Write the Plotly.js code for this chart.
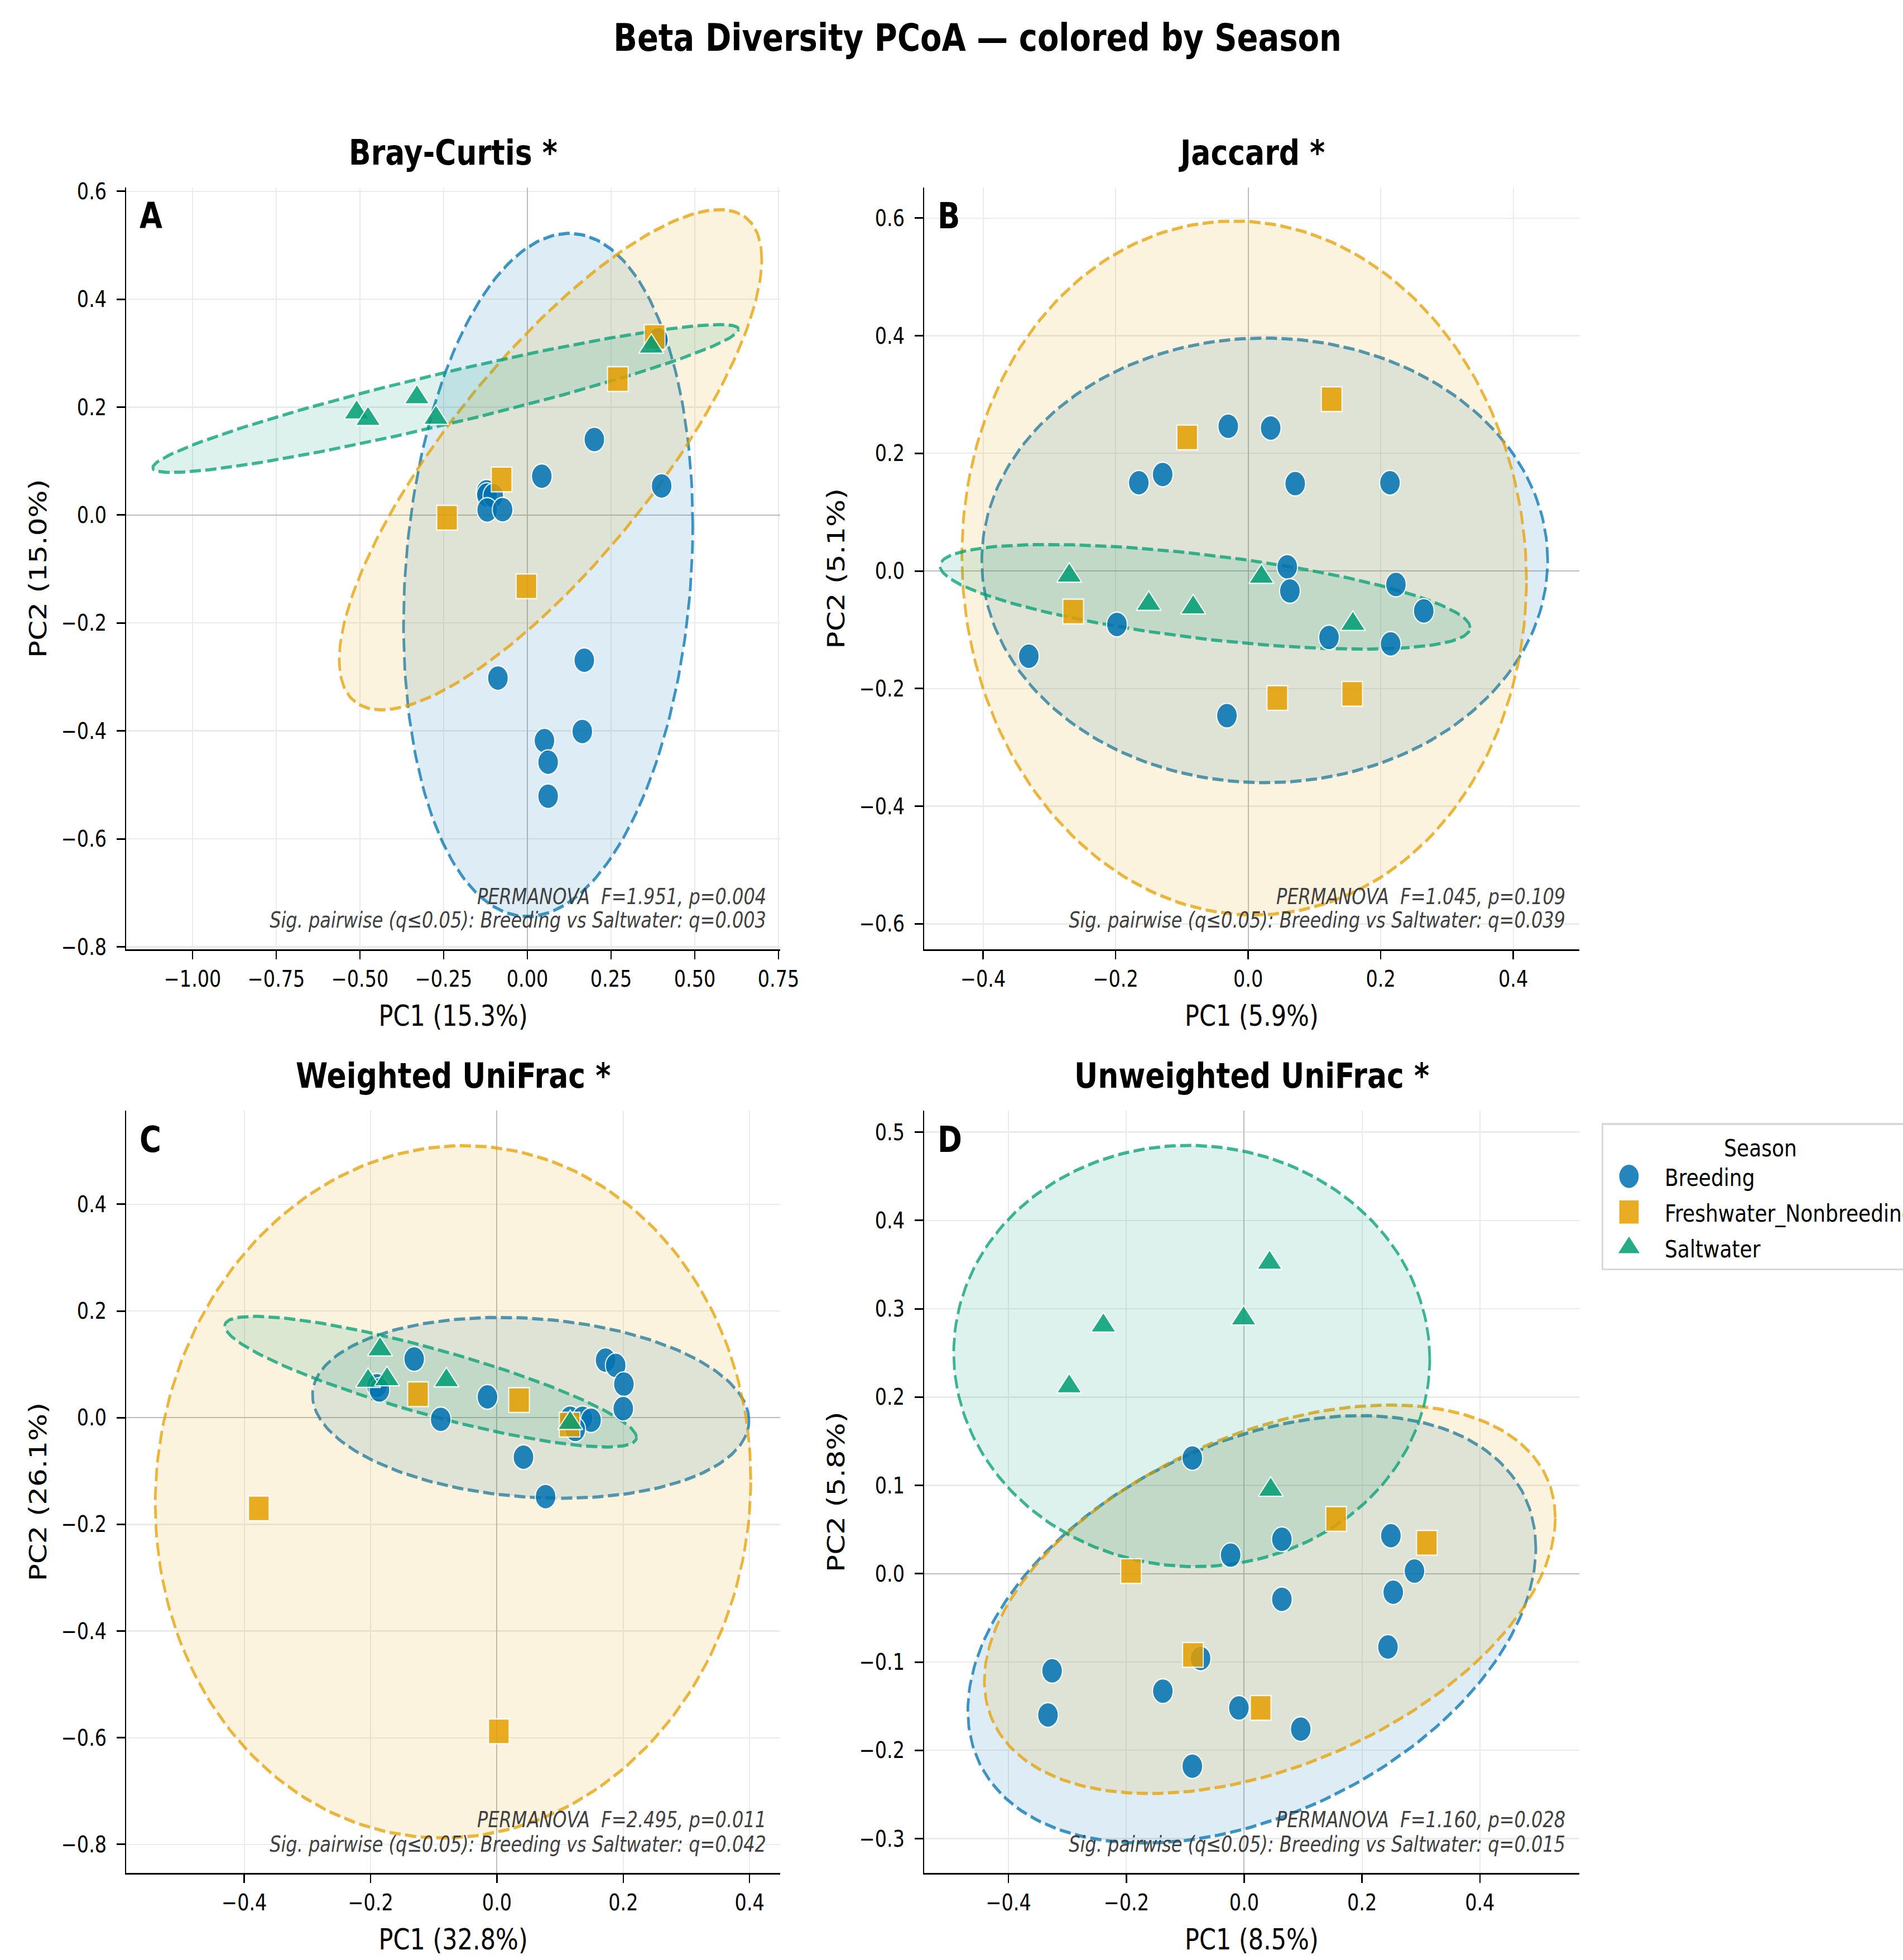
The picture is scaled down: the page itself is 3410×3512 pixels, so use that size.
<!DOCTYPE html>
<html>
<head>
<meta charset="utf-8">
<script src="https://cdn.plot.ly/plotly-3.0.1.min.js"></script>
<style>
html,body{margin:0;padding:0;background:#fff;width:3410px;height:3512px;overflow:hidden;}
#wrap{position:relative;width:3410px;height:3512px;overflow:hidden;background:#fff;}
#chart{position:absolute;left:0;top:0;width:3410px;height:2927px;transform:scale(1,1.19986);transform-origin:0 0;}
</style>
</head>
<body>
<div id="wrap"><div id="chart"></div></div>
<script>
// ---------------- DATA ----------------
const seasons = ['Breeding', 'Freshwater_Nonbreeding', 'Saltwater'];
const panelTitles = ['Bray-Curtis *', 'Jaccard *', 'Weighted UniFrac *', 'Unweighted UniFrac *'];
const panelLetters = ['A', 'B', 'C', 'D'];
const pc1Labels = ['PC1 (15.3%)', 'PC1 (5.9%)', 'PC1 (32.8%)', 'PC1 (8.5%)'];
const pc2Labels = ['PC2 (15.0%)', 'PC2 (5.1%)', 'PC2 (26.1%)', 'PC2 (5.8%)'];
const permanovaText = ['PERMANOVA  F=1.951, p=0.004', 'PERMANOVA  F=1.045, p=0.109',
                       'PERMANOVA  F=2.495, p=0.011', 'PERMANOVA  F=1.160, p=0.028'];
const pairwiseText = ['Sig. pairwise (q≤0.05): Breeding vs Saltwater: q=0.003',
                      'Sig. pairwise (q≤0.05): Breeding vs Saltwater: q=0.039',
                      'Sig. pairwise (q≤0.05): Breeding vs Saltwater: q=0.042',
                      'Sig. pairwise (q≤0.05): Breeding vs Saltwater: q=0.015'];

// Bray-Curtis
const bcBreedX = [0.200, 0.043, 0.401, -0.122, -0.121, -0.102, -0.120, -0.074, 0.170, -0.088, 0.164, 0.051, 0.062, 0.062, 0.390];
const bcBreedY = [0.140, 0.072, 0.054, 0.043, 0.037, 0.036, 0.0095, 0.010, -0.269, -0.302, -0.401, -0.418, -0.458, -0.521, 0.325];
const bcFreshX = [0.380, 0.270, -0.077, -0.240, -0.003];
const bcFreshY = [0.330, 0.252, 0.066, -0.005, -0.132];
const bcSaltX = [-0.510, -0.476, -0.330, -0.273, 0.370];
const bcSaltY = [0.190, 0.178, 0.218, 0.180, 0.312];
// ellipse: [centre x, centre y, half width, half height, correlation]
const bcEllipses = [[0.062, -0.111, 0.432, 0.633, 0.145],
                    [0.069, 0.1025, 0.631, 0.4635, 0.80],
                    [-0.244, 0.216, 0.875, 0.137, 0.935]];

// Jaccard
const jcBreedX = [-0.030, 0.034, -0.129, -0.165, 0.071, 0.214, 0.059, 0.063, 0.223, 0.265, -0.198, 0.122, 0.215, -0.331, -0.032];
const jcBreedY = [0.246, 0.243, 0.164, 0.150, 0.1485, 0.150, 0.007, -0.034, -0.023, -0.068, -0.091, -0.113, -0.124, -0.145, -0.246];
const jcFreshX = [0.126, -0.092, -0.264, 0.044, 0.157];
const jcFreshY = [0.292, 0.227, -0.069, -0.216, -0.209];
const jcSaltX = [-0.270, -0.150, -0.083, 0.020, 0.158];
const jcSaltY = [-0.008, -0.056, -0.062, -0.010, -0.090];
const jcEllipses = [[0.025, 0.018, 0.427, 0.378, 0.0],
                    [-0.006, 0.005, 0.426, 0.590, -0.035],
                    [-0.065, -0.044, 0.400, 0.089, -0.59]];

// Weighted UniFrac
const wuBreedX = [-0.131, -0.190, -0.186, -0.089, -0.015, 0.042, 0.077, 0.172, 0.188, 0.201, 0.200, 0.116, 0.1355, 0.149, 0.124];
const wuBreedY = [0.110, 0.060, 0.052, -0.003, 0.039, -0.074, -0.148, 0.108, 0.098, 0.063, 0.017, -0.001, -0.001, -0.0046, -0.022];
const wuFreshX = [-0.125, 0.035, 0.115, -0.377, 0.003];
const wuFreshY = [0.044, 0.033, -0.013, -0.170, -0.588];
const wuSaltX = [-0.185, -0.204, -0.174, -0.080, 0.116];
const wuSaltY = [0.128, 0.069, 0.072, 0.070, -0.010];
const wuEllipses = [[0.0535, 0.0185, 0.3455, 0.1695, -0.14],
                    [-0.0695, -0.139, 0.4715, 0.649, 0.035],
                    [-0.105, 0.0675, 0.326, 0.1225, -0.853]];

// Unweighted UniFrac
const uuBreedX = [-0.088, 0.064, -0.023, 0.249, 0.289, 0.253, 0.064, 0.244, -0.074, -0.326, -0.138, -0.333, -0.009, 0.096, -0.088];
const uuBreedY = [0.131, 0.039, 0.021, 0.043, 0.003, -0.021, -0.029, -0.083, -0.096, -0.110, -0.133, -0.160, -0.152, -0.176, -0.218];
const uuFreshX = [-0.192, -0.087, 0.028, 0.156, 0.310];
const uuFreshY = [0.003, -0.092, -0.152, 0.062, 0.035];
const uuSaltX = [-0.297, -0.239, -0.001, 0.043, 0.045];
const uuSaltY = [0.212, 0.281, 0.289, 0.352, 0.095];
const uuEllipses = [[0.013, -0.063, 0.482, 0.242, 0.38],
                    [0.0435, -0.029, 0.4845, 0.220, 0.42],
                    [-0.089, 0.2465, 0.404, 0.2385, -0.015]];

// tick values
const bcXTicks = [-1.0, -0.75, -0.5, -0.25, 0, 0.25, 0.5, 0.75];
const bcYTicks = [-0.8, -0.6, -0.4, -0.2, 0, 0.2, 0.4, 0.6];
const jcXTicks = [-0.4, -0.2, 0, 0.2, 0.4];
const jcYTicks = [-0.6, -0.4, -0.2, 0, 0.2, 0.4, 0.6];
const wuXTicks = [-0.4, -0.2, 0, 0.2, 0.4];
const wuYTicks = [-0.8, -0.6, -0.4, -0.2, 0, 0.2, 0.4];
const uuXTicks = [-0.4, -0.2, 0, 0.2, 0.4];
const uuYTicks = [-0.3, -0.2, -0.1, 0, 0.1, 0.2, 0.3, 0.4, 0.5];

// axis ranges
const bcXRange = [-1.198, 0.755], bcYRange = [-0.805, 0.607];
const jcXRange = [-0.4887, 0.4993], jcYRange = [-0.6436, 0.652];
const wuXRange = [-0.5868, 0.4484], wuYRange = [-0.854, 0.576];
const uuXRange = [-0.5429, 0.5683], uuYRange = [-0.3392, 0.5246];

// ---------------- STYLE ----------------
const FONT = 'DejaVu Sans';
const W = 3410, H = 2927;
const rgb = {Breeding: [0, 114, 178], Freshwater_Nonbreeding: [230, 159, 0], Saltwater: [0, 158, 115]};
const symbols = {Breeding: 'circle', Freshwater_Nonbreeding: 'square', Saltwater: 'triangle-up'};
const msize = {Breeding: 37, Freshwater_Nonbreeding: 37, Saltwater: 39};
const rgba = (c, a) => `rgba(${c[0]},${c[1]},${c[2]},${a})`;

const panels = [
  {bx: bcBreedX, by: bcBreedY, fx: bcFreshX, fy: bcFreshY, sx: bcSaltX, sy: bcSaltY, ell: bcEllipses,
   xt: bcXTicks, yt: bcYTicks, xr: bcXRange, yr: bcYRange, xf: '.2f', yf: '.1f'},
  {bx: jcBreedX, by: jcBreedY, fx: jcFreshX, fy: jcFreshY, sx: jcSaltX, sy: jcSaltY, ell: jcEllipses,
   xt: jcXTicks, yt: jcYTicks, xr: jcXRange, yr: jcYRange, xf: '.1f', yf: '.1f'},
  {bx: wuBreedX, by: wuBreedY, fx: wuFreshX, fy: wuFreshY, sx: wuSaltX, sy: wuSaltY, ell: wuEllipses,
   xt: wuXTicks, yt: wuYTicks, xr: wuXRange, yr: wuYRange, xf: '.1f', yf: '.1f'},
  {bx: uuBreedX, by: uuBreedY, fx: uuFreshX, fy: uuFreshY, sx: uuSaltX, sy: uuSaltY, ell: uuEllipses,
   xt: uuXTicks, yt: uuYTicks, xr: uuXRange, yr: uuYRange, xf: '.1f', yf: '.1f'}
];

const xDoms = [[226.3 / W, 1398 / W], [1656.25 / W, 2829.5 / W], [226.3 / W, 1398 / W], [1656.25 / W, 2829.5 / W]];
const yTop = [1 - 1417.9 / H, 1 - 280 / H], yBot = [1 - 2797.4 / H, 1 - 1658.3 / H];
const yDoms = [yTop, yTop, yBot, yBot];

function ellipsePath(e) {
  const [cx, cy, hx, hy, r] = e;
  const s = Math.sqrt(1 - r * r);
  const xs = [], ys = [];
  for (let i = 0; i <= 240; i++) {
    const t = 2 * Math.PI * i / 240;
    xs.push(cx + hx * Math.cos(t));
    ys.push(cy + hy * (r * Math.cos(t) + s * Math.sin(t)));
  }
  return {xs, ys};
}

const traces = [];
const layout = {
  width: W, height: H,
  margin: {l: 0, r: 0, t: 0, b: 0, autoexpand: false},
  paper_bgcolor: '#ffffff', plot_bgcolor: '#ffffff',
  font: {family: FONT, color: '#000000'},
  showlegend: true,
  legend: {
    x: 2870 / W, xanchor: 'left', y: 1 - 1677 / H, yanchor: 'top',
    bgcolor: 'rgba(255,255,255,0.8)', bordercolor: '#d9d9d9', borderwidth: 3,
    font: {family: FONT, size: 36, color: '#000000'},
    title: {text: 'Season', side: 'top center', font: {family: FONT, size: 36, color: '#000000'}},
    itemwidth: 100, tracegroupgap: 3.5, traceorder: 'grouped'
  },
  annotations: [{
    text: '<b>Beta Diversity PCoA — colored by Season</b>', xref: 'paper', yref: 'paper',
    x: 1751 / W, y: 1 - 91.5 / H, xanchor: 'center', yanchor: 'bottom', showarrow: false,
    font: {family: FONT, size: 56, color: '#000000'}
  }]
};

panels.forEach((p, i) => {
  const n = i === 0 ? '' : String(i + 1);
  const xa = 'x' + n, ya = 'y' + n;
  // confidence ellipses
  seasons.forEach((s, k) => {
    const e = ellipsePath(p.ell[k]);
    traces.push({
      type: 'scatter', mode: 'lines', x: e.xs, y: e.ys, xaxis: xa, yaxis: ya,
      fill: 'toself', fillcolor: rgba(rgb[s], 0.13),
      line: {color: rgba(rgb[s], 0.75), width: 4.8, dash: '20px,8px'},
      hoverinfo: 'skip', showlegend: false
    });
  });
  // sample points
  const pts = [[p.bx, p.by], [p.fx, p.fy], [p.sx, p.sy]];
  seasons.forEach((s, k) => {
    traces.push({
      type: 'scatter', mode: 'markers', name: s, legendgroup: s,
      x: pts[k][0], y: pts[k][1], xaxis: xa, yaxis: ya,
      marker: {symbol: symbols[s], size: msize[s], color: rgba(rgb[s], 1), opacity: 0.85,
               line: {color: '#ffffff', width: 2}},
      showlegend: i === 0
    });
  });
  const axCommon = {
    showline: true, linecolor: '#000000', linewidth: 2.5, mirror: false,
    ticks: 'outside', tickwidth: 2.5, tickcolor: '#000000',
    showgrid: true, gridcolor: '#ebebeb', gridwidth: 2,
    zeroline: true, zerolinecolor: '#bdbdbd', zerolinewidth: 2,
    tickfont: {family: FONT, size: 33.5, color: '#000000'},
    automargin: false, fixedrange: true
  };
  layout['xaxis' + n] = Object.assign({}, axCommon, {
    domain: xDoms[i], range: p.xr, tickmode: 'array', tickvals: p.xt, tickformat: p.xf,
    ticklen: 12.5, anchor: ya, ticklabelstandoff: 0,
    title: {text: pc1Labels[i], font: {family: FONT, size: 43, color: '#000000'}, standoff: 22}
  });
  layout['yaxis' + n] = Object.assign({}, axCommon, {
    domain: yDoms[i], range: p.yr, tickmode: 'array', tickvals: p.yt, tickformat: p.yf,
    ticklen: 15, anchor: xa, ticklabelstandoff: 11,
    title: {text: pc2Labels[i], font: {family: FONT, size: 43, color: '#000000'}, standoff: 13}
  });
  const dx = xa + ' domain', dy = ya + ' domain';
  layout.annotations.push(
    {text: '<b>' + panelTitles[i] + '</b>', xref: dx, yref: dy, x: 0.5, y: 1, yshift: 20,
     xanchor: 'center', yanchor: 'bottom', showarrow: false, font: {family: FONT, size: 52, color: '#000000'}},
    {text: '<b>' + panelLetters[i] + '</b>', xref: dx, yref: dy, x: 0, y: 1, xshift: 21.7, yshift: -10.2,
     xanchor: 'left', yanchor: 'top', showarrow: false, font: {family: FONT, size: 53, color: '#000000'}},
    {text: '<i>' + permanovaText[i] + '</i>', xref: dx, yref: dy, x: 1, y: 0, xshift: -23, yshift: 58.3,
     xanchor: 'right', yanchor: 'bottom', showarrow: false, font: {family: FONT, size: 32, color: '#404040'}},
    {text: '<i>' + pairwiseText[i] + '</i>', xref: dx, yref: dy, x: 1, y: 0, xshift: -23, yshift: 22.5,
     xanchor: 'right', yanchor: 'bottom', showarrow: false, font: {family: FONT, size: 32, color: '#404040'}}
  );
});

Plotly.newPlot('chart', traces, layout, {displayModeBar: false, staticPlot: true}).then(() => {
  document.querySelectorAll('#chart .legend .legendpoints path.scatterpts').forEach(el => {
    const t = el.getAttribute('transform') || '';
    el.setAttribute('transform', t + ' translate(-9,0) scale(2.3)');
    el.style.strokeWidth = '0.9px';
  });
});
</script>
</body>
</html>
